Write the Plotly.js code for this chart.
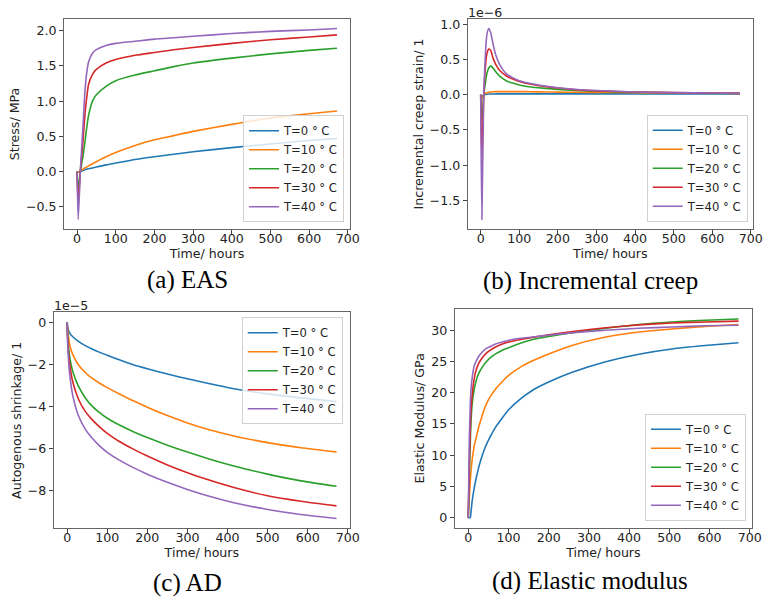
<!DOCTYPE html>
<html>
<head>
<meta charset="utf-8">
<script src="https://cdn.plot.ly/plotly-3.0.1.min.js"></script>
<style>html,body{margin:0;padding:0;background:#fff;}#chart{width:764px;height:598px;}</style>
</head>
<body>
<div id="chart"></div>
<script>
// ---------- data ----------
const seriesNames = ["T=0 ° C", "T=10 ° C", "T=20 ° C", "T=30 ° C", "T=40 ° C"];
const seriesColors = ["#1f77b4", "#ff7f0e", "#2ca02c", "#d62728", "#9467bd"];

// (a) EAS stress, MPa
const timeA = [0, 3, 9, 15, 20, 25, 30, 40, 50, 75, 100, 150, 200, 250, 300, 400, 500, 600, 672];
const eas0  = [0, -0.01, 0, 0.015, 0.025, 0.035, 0.04, 0.05, 0.065, 0.095, 0.12, 0.17, 0.21, 0.245, 0.28, 0.34, 0.39, 0.44, 0.47];
const eas10 = [0, -0.01, 0.01, 0.03, 0.05, 0.065, 0.08, 0.11, 0.14, 0.21, 0.27, 0.37, 0.45, 0.51, 0.57, 0.67, 0.76, 0.82, 0.86];
const eas20 = [0, -0.24, 0.02, 0.2, 0.4, 0.62, 0.8, 1.0, 1.09, 1.21, 1.29, 1.37, 1.43, 1.49, 1.54, 1.61, 1.67, 1.72, 1.75];
const eas30 = [0, -0.43, 0.03, 0.4, 0.78, 1.05, 1.24, 1.38, 1.45, 1.54, 1.59, 1.65, 1.69, 1.73, 1.76, 1.82, 1.87, 1.91, 1.94];
const eas40 = [0, -0.68, 0.05, 0.6, 1.1, 1.4, 1.56, 1.68, 1.73, 1.79, 1.82, 1.85, 1.88, 1.90, 1.92, 1.96, 1.99, 2.01, 2.03];

// (b) Incremental creep strain, units of 1e-6
const timeB = [0, 3, 8, 12, 16, 21, 26, 32, 40, 50, 66, 80, 100, 130, 170, 200, 250, 300, 400, 500, 600, 672];
const creep0  = [0, -0.02, 0, 0.005, 0.008, 0.01, 0.01, 0.011, 0.012, 0.012, 0.013, 0.013, 0.013, 0.013, 0.013, 0.013, 0.013, 0.013, 0.012, 0.011, 0.01, 0.01];
const creep10 = [0, -0.05, 0, 0.02, 0.03, 0.035, 0.04, 0.042, 0.045, 0.045, 0.045, 0.045, 0.045, 0.043, 0.04, 0.038, 0.035, 0.033, 0.03, 0.025, 0.022, 0.02];
const creep20 = [0, -0.38, 0, 0.16, 0.3, 0.38, 0.41, 0.38, 0.32, 0.26, 0.2, 0.17, 0.14, 0.11, 0.09, 0.075, 0.06, 0.05, 0.035, 0.028, 0.022, 0.02];
const creep30 = [0, -0.86, 0, 0.38, 0.58, 0.65, 0.63, 0.52, 0.42, 0.34, 0.27, 0.23, 0.19, 0.15, 0.115, 0.095, 0.07, 0.055, 0.04, 0.03, 0.025, 0.02];
const creep40 = [0, -1.77, 0, 0.55, 0.85, 0.94, 0.88, 0.72, 0.55, 0.42, 0.3, 0.25, 0.2, 0.16, 0.12, 0.1, 0.075, 0.06, 0.04, 0.03, 0.025, 0.02];

// (c) Autogenous shrinkage, units of 1e-5
const timeC = [0, 1, 3, 7, 14, 28, 45, 61, 80, 100, 128, 165, 200, 250, 300, 350, 416, 500, 583, 672];
const ad0  = [0, -0.2, -0.38, -0.55, -0.7, -0.92, -1.12, -1.27, -1.43, -1.58, -1.78, -2.03, -2.22, -2.47, -2.7, -2.91, -3.17, -3.42, -3.61, -3.78];
const ad10 = [0, -0.35, -0.65, -1.15, -1.55, -2.03, -2.4, -2.66, -2.9, -3.12, -3.4, -3.75, -4.05, -4.45, -4.8, -5.1, -5.42, -5.74, -5.98, -6.18];
const ad20 = [0, -0.6, -1.1, -1.75, -2.35, -3.05, -3.6, -3.98, -4.3, -4.58, -4.88, -5.22, -5.5, -5.86, -6.19, -6.49, -6.85, -7.24, -7.56, -7.82];
const ad30 = [0, -0.75, -1.4, -2.1, -2.85, -3.66, -4.25, -4.62, -4.98, -5.3, -5.66, -6.05, -6.38, -6.8, -7.17, -7.5, -7.88, -8.27, -8.53, -8.75];
const ad40 = [0, -0.9, -1.7, -2.6, -3.5, -4.45, -5.1, -5.5, -5.88, -6.2, -6.55, -6.93, -7.24, -7.63, -7.97, -8.27, -8.6, -8.92, -9.16, -9.35];

// (d) Elastic modulus, GPa
const timeD = [0, 2.5, 5, 7, 10, 15, 20, 27, 35, 43, 55, 68, 85, 101, 130, 160, 200, 260, 342, 424, 506, 589, 672];
const em0  = [0, 0, 0, 1.0, 2.8, 4.8, 6.4, 8.3, 10.0, 11.4, 13.0, 14.5, 16.0, 17.3, 19.0, 20.4, 21.7, 23.3, 24.95, 26.15, 27.0, 27.55, 28.0];
const em10 = [0, 3.0, 5.8, 7.6, 9.4, 11.5, 12.9, 14.7, 16.4, 17.9, 19.4, 20.6, 21.8, 22.8, 24.1, 25.1, 26.2, 27.6, 28.9, 29.7, 30.2, 30.6, 30.9];
const em20 = [0, 6.0, 12.0, 15.5, 18.3, 20.6, 22.0, 23.2, 24.1, 24.8, 25.6, 26.2, 26.8, 27.2, 27.9, 28.5, 29.0, 29.6, 30.3, 30.9, 31.3, 31.6, 31.8];
const em30 = [0, 8, 14, 17.2, 19.8, 22.3, 23.7, 24.8, 25.6, 26.2, 26.8, 27.3, 27.8, 28.1, 28.5, 28.85, 29.25, 29.8, 30.4, 30.85, 31.15, 31.32, 31.45];
const em40 = [0, 12, 18, 20.6, 22.5, 24.3, 25.1, 25.9, 26.5, 27.0, 27.4, 27.8, 28.1, 28.4, 28.7, 28.9, 29.2, 29.6, 30.0, 30.3, 30.5, 30.7, 30.8];

const xTickVals = [0, 100, 200, 300, 400, 500, 600, 700];

// ---------- build ----------
const panels = [
  {t: timeA, ys: [eas0, eas10, eas20, eas30, eas40], xa: "x", ya: "y", lg: "legend"},
  {t: timeB, ys: [creep0, creep10, creep20, creep30, creep40], xa: "x2", ya: "y2", lg: "legend2"},
  {t: timeC, ys: [ad0, ad10, ad20, ad30, ad40], xa: "x3", ya: "y3", lg: "legend3"},
  {t: timeD, ys: [em0, em10, em20, em30, em40], xa: "x4", ya: "y4", lg: "legend4"}
];
const traces = [];
panels.forEach(p => {
  p.ys.forEach((y, i) => {
    traces.push({
      type: "scatter", mode: "lines", x: p.t, y: y,
      name: seriesNames[i], xaxis: p.xa, yaxis: p.ya, legend: p.lg,
      line: {color: seriesColors[i], width: 1.6, shape: "spline", smoothing: 0.6}
    });
  });
});

const FONT = "DejaVu Sans, sans-serif";
const tickFont = {family: FONT, size: 12.6, color: "#222"};
function xax(dom, anchor) {
  return {domain: dom, anchor: anchor, range: [-33.6, 705.6], tickvals: xTickVals,
    showline: true, mirror: true, linecolor: "#666", linewidth: 1, ticks: "outside",
    ticklen: 4, tickcolor: "#444", showgrid: false, zeroline: false, tickfont: tickFont,
    ticklabelstandoff: -6,
    title: {text: "Time/ hours", font: tickFont, standoff: 0}};
}
function yax(dom, anchor, range, title, extra) {
  return Object.assign({domain: dom, anchor: anchor, range: range,
    showline: true, mirror: true, linecolor: "#666", linewidth: 1, ticks: "outside",
    ticklen: 4, tickcolor: "#444", showgrid: false, zeroline: false, tickfont: tickFont,
    title: {text: title, font: tickFont, standoff: 3}}, extra || {});
}
function legend(x, y, ya) {
  return {x: x, y: y, xanchor: "right", yanchor: ya, bgcolor: "rgba(255,255,255,0.8)",
    bordercolor: "#d0d0d0", borderwidth: 1, font: {family: FONT, size: 11.6, color: "#222"}};
}
const capFont = {family: "Liberation Serif, Times New Roman, serif", size: 25, color: "#000"};

const layout = {
  width: 764, height: 598, margin: {l: 0, r: 0, t: 0, b: 0},
  paper_bgcolor: "#fff", plot_bgcolor: "#fff", showlegend: true,
  xaxis:  xax([0.0838, 0.4581], "y"),
  yaxis:  yax([0.6171, 0.9682], "x", [-0.8155, 2.1655], "Stress/ MPa", {dtick: 0.5, tickformat: ".1f"}),
  xaxis2: xax([0.6122, 0.9856], "y2"),
  yaxis2: yax([0.6171, 0.9682], "x2", [-1.9055, 1.0755], "Incremental creep strain/ 1", {dtick: 0.5, tickformat: ".1f"}),
  xaxis3: xax([0.0703, 0.4581], "y3"),
  yaxis3: yax([0.1166, 0.4778], "x3", [-9.8175, 0.4675], "Autogenous shrinkage/ 1", {dtick: 2}),
  xaxis4: xax([0.5952, 0.9843], "y4"),
  yaxis4: yax([0.1176, 0.4833], "x4", [-1.59, 33.39], "Elastic Modulus/ GPa", {dtick: 5}),
  legend:  legend(0.4503, 0.6283, "bottom"),
  legend2: legend(0.9787, 0.6293, "bottom"),
  legend3: legend(0.4486, 0.4694, "top"),
  legend4: legend(0.9764, 0.1293, "bottom"),
  annotations: [
    {text: "1e\u22126", xref: "x2 domain", yref: "y2 domain", x: 0, y: 1, xanchor: "left", yanchor: "bottom", showarrow: false, font: tickFont, xshift: -2, yshift: -3},
    {text: "1e\u22125", xref: "x3 domain", yref: "y3 domain", x: 0, y: 1, xanchor: "left", yanchor: "bottom", showarrow: false, font: tickFont, xshift: -2, yshift: -3},
    {text: "(a) EAS", xref: "paper", yref: "paper", x: 187/764, y: 1 - 280/598, xanchor: "center", yanchor: "middle", showarrow: false, font: capFont},
    {text: "(b) Incremental creep", xref: "paper", yref: "paper", x: 590/764, y: 1 - 281/598, xanchor: "center", yanchor: "middle", showarrow: false, font: capFont},
    {text: "(c) AD", xref: "paper", yref: "paper", x: 187/764, y: 1 - 583/598, xanchor: "center", yanchor: "middle", showarrow: false, font: capFont},
    {text: "(d) Elastic modulus", xref: "paper", yref: "paper", x: 590/764, y: 1 - 581/598, xanchor: "center", yanchor: "middle", showarrow: false, font: capFont}
  ]
};

Plotly.newPlot("chart", traces, layout, {staticPlot: true, displayModeBar: false});
</script>
</body>
</html>
